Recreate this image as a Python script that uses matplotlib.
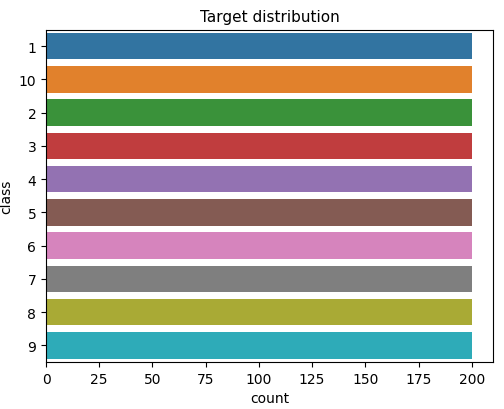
import matplotlib
matplotlib.use('Agg')
from matplotlib import pyplot as plt

classes = ['1', '10', '2', '3', '4', '5', '6', '7', '8', '9']
counts = [200, 200, 200, 200, 200, 200, 200, 200, 200, 200]
colors = ['#3274a1', '#e1812c', '#3a923a', '#c03d3e', '#9372b2',
          '#845b53', '#d684bd', '#7f7f7f', '#a9aa35', '#2eabb8']

fig = plt.figure(figsize=(5.04, 4.10), dpi=100)
ax = fig.add_axes([0.0913, 0.1146, 0.887, 0.811])
ax.barh(range(len(classes)), counts, height=0.8, color=colors)
ax.set_yticks(range(len(classes)))
ax.set_yticklabels(classes)
ax.set_ylim(len(classes) - 0.5, -0.5)
ax.set_xlim(0, max(counts) * 1.05)
ax.set_xticks(range(0, 201, 25))
ax.set_xlabel('count')
ax.set_ylabel('class')
ax.set_title('Target distribution', fontsize=11)
fig.savefig('out.png', dpi=100)
